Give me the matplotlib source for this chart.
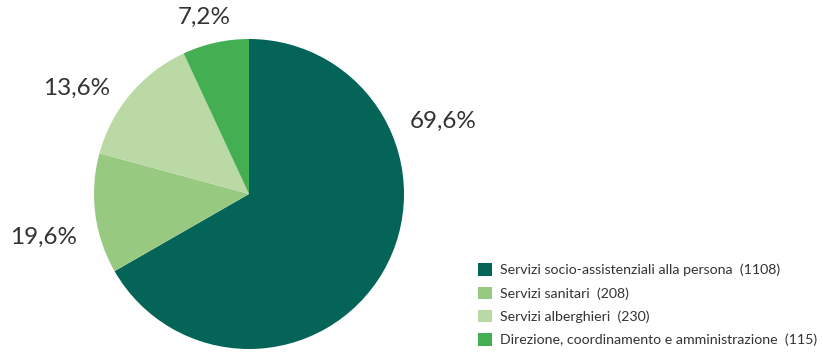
import matplotlib
matplotlib.use("Agg")
import matplotlib.pyplot as plt
from matplotlib.patches import Patch

# data
categorie = ["Servizi socio-assistenziali alla persona",
             "Servizi sanitari",
             "Servizi alberghieri",
             "Direzione, coordinamento e amministrazione"]
valori = [1108, 208, 230, 115]
etichette = ["69,6%", "19,6%", "13,6%", "7,2%"]
colori = ["#046457", "#98c981", "#bbd9a5", "#44ae52"]

plt.rcParams['font.family'] = ['Lato', 'DejaVu Sans']

W, H = 823, 352
fig = plt.figure(figsize=(W/100, H/100), dpi=100)
cx, cy, r = 249, 194, 155
ax = fig.add_axes([(cx-r)/W, (H-cy-r)/H, 2*r/W, 2*r/H])
ax.pie(valori, colors=colori, startangle=90, counterclock=False, radius=1,
       wedgeprops=dict(linewidth=0))
ax.set_xlim(-1, 1)
ax.set_ylim(-1, 1)
ax.set_aspect('equal')
ax.axis('off')

# label positions in pixels (x, y from top)
pos = [(443, 121), (44, 237), (77, 88), (204, 17)]
for (px, py), t in zip(pos, etichette):
    ax.text((px-cx)/r, (cy-py)/r, t, ha='center', va='center',
            fontsize=17.5, color='#333333', clip_on=False)

handles = [Patch(facecolor=c, edgecolor='none') for c in colori]
labels = [f"{c}  ({v})" for c, v in zip(categorie, valori)]
fig.legend(handles, labels, loc='upper left', bbox_to_anchor=(474/W, 1-259/H),
           frameon=False, fontsize=10.2, handlelength=0.98, handleheight=0.98,
           handletextpad=0.55, labelspacing=0.72, borderaxespad=0, borderpad=0.3,
           labelcolor='#333333')

fig.savefig("out.png", dpi=100)
